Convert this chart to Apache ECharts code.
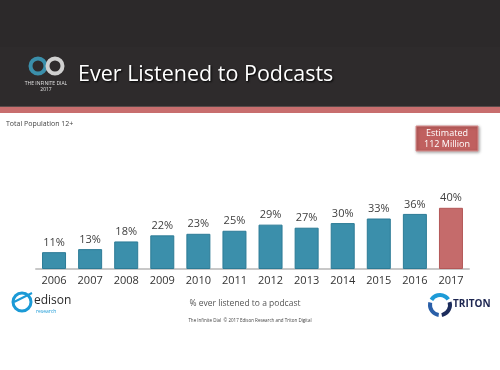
<!DOCTYPE html>
<html>
<head>
<meta charset="utf-8">
<script src="https://cdn.jsdelivr.net/npm/echarts@6/dist/echarts.min.js"></script>
<style>html,body{margin:0;padding:0;background:#fff}#c{width:500px;height:370px}</style>
</head>
<body>
<div id="c"></div>
<script>
var categories = ['2006','2007','2008','2009','2010','2011','2012','2013','2014','2015','2016','2017'];
var values = [11, 13, 18, 22, 23, 25, 29, 27, 30, 33, 36, 40];
var highlightCategory = '2017';
var titleText = 'Ever Listened to Podcasts';
var subtitleText = 'Total Population 12+';
var calloutText = 'Estimated\n112 Million';
var axisNameText = '% ever listened to a podcast';
var footerText = 'The Infinite Dial  \u00A9 2017 Edison Research and Triton Digital';

var FONT = '"Open Sans", "Noto Sans", sans-serif';
var chart = echarts.init(document.getElementById('c'), null, {renderer: 'canvas'});

var barData = values.map(function (v, i) {
  var hi = categories[i] === highlightCategory;
  return {
    value: v,
    itemStyle: hi ? {color: '#c56b6b', borderColor: '#b35757', borderWidth: 1}
                  : {color: '#3b8fab', borderColor: '#2c7b96', borderWidth: 1}
  };
});

chart.setOption({
  backgroundColor: '#ffffff',
  animation: false,
  grid: {left: 36, right: 31, top: 116, bottom: 101},
  xAxis: {
    type: 'category',
    data: categories,
    axisTick: {show: false},
    axisLine: {lineStyle: {color: '#c8c8c8', width: 2}},
    axisLabel: {color: '#333333', fontSize: 11, fontFamily: FONT, margin: 6}
  },
  yAxis: {type: 'value', min: 0, max: 100, show: false, splitLine: {show: false}},
  series: [{
    type: 'bar',
    data: barData,
    barWidth: 24,
    label: {
      show: true, position: 'top', distance: 4,
      formatter: '{c}%', color: '#404040', fontSize: 11, fontFamily: FONT
    }
  }],
  graphic: [
    // header
    {type: 'rect', z: 1, shape: {x: 0, y: 0, width: 500, height: 107}, style: {fill: '#2c292a'}},
    {type: 'rect', z: 1, shape: {x: 0, y: 47, width: 500, height: 59}, style: {fill: '#2e2b2c'}},
    {type: 'rect', z: 1, shape: {x: 0, y: 106, width: 500, height: 1}, style: {fill: '#5a4a4a'}},
    {type: 'rect', z: 1, shape: {x: 0, y: 107, width: 500, height: 6}, style: {fill: '#c86e6e'}},
    // infinity logo
    {type: 'circle', z: 2, shape: {cx: 38, cy: 66, r: 7.5}, style: {fill: 'none', stroke: '#3b8fab', lineWidth: 4}},
    {type: 'circle', z: 2, shape: {cx: 55, cy: 66, r: 7.5}, style: {fill: 'none', stroke: '#d0d0d0', lineWidth: 4}},
    {type: 'text', z: 2, style: {x: 46, y: 84, text: 'THE INFINITE DIAL', fill: '#e0e0e0', fontSize: 5, fontFamily: FONT, align: 'center', verticalAlign: 'middle'}},
    {type: 'text', z: 2, style: {x: 46, y: 90, text: '2017', fill: '#e0e0e0', fontSize: 5, fontFamily: FONT, align: 'center', verticalAlign: 'middle'}},
    // title
    {type: 'text', z: 2, style: {x: 78, y: 75, text: titleText, fill: '#ffffff', fontSize: 21.5, fontFamily: FONT,
      verticalAlign: 'middle', textShadowColor: '#000000', textShadowBlur: 2, textShadowOffsetX: 1, textShadowOffsetY: 1}},
    // subtitle
    {type: 'text', z: 2, style: {x: 6, y: 124, text: subtitleText, fill: '#444444', fontSize: 7, fontFamily: FONT, verticalAlign: 'middle'}},
    // callout
    {type: 'rect', z: 2, shape: {x: 416, y: 126, width: 62, height: 25},
      style: {fill: '#c0605f', stroke: '#d89090', lineWidth: 1, shadowColor: 'rgba(0,0,0,0.35)', shadowBlur: 3, shadowOffsetX: 1, shadowOffsetY: 1}},
    {type: 'text', z: 3, style: {x: 447, y: 138.5, text: calloutText, fill: '#ffffff', fontSize: 9, lineHeight: 11, fontFamily: FONT, align: 'center', verticalAlign: 'middle'}},
    // axis name / footer
    {type: 'text', z: 2, style: {x: 245, y: 304, text: axisNameText, fill: '#555555', fontSize: 8.5, fontFamily: FONT, align: 'center', verticalAlign: 'middle'}},
    {type: 'text', z: 2, style: {x: 250, y: 321, text: footerText, fill: '#444444', fontSize: 4.5, fontFamily: FONT, align: 'center', verticalAlign: 'middle'}},
    // edison logo
    {type: 'circle', z: 2, shape: {cx: 22, cy: 302, r: 9}, style: {fill: 'none', stroke: '#1b9ad6', lineWidth: 3}},
    {type: 'line', z: 2, shape: {x1: 14, y1: 302, x2: 32, y2: 293}, style: {stroke: '#1b9ad6', lineWidth: 2}},
    {type: 'text', z: 2, style: {x: 34, y: 301, text: 'edison', fill: '#2a2a2a', fontSize: 12, fontFamily: FONT, verticalAlign: 'middle'}},
    {type: 'text', z: 2, style: {x: 36, y: 312, text: 'research', fill: '#1b9ad6', fontSize: 5, fontFamily: FONT, verticalAlign: 'middle'}},
    // triton logo
    {type: 'arc', z: 2, shape: {cx: 440, cy: 305, r: 10, startAngle: -2.6, endAngle: -0.6}, style: {fill: 'none', stroke: '#1e9bd7', lineWidth: 4}},
    {type: 'arc', z: 2, shape: {cx: 440, cy: 305, r: 10, startAngle: -0.3, endAngle: 1.4}, style: {fill: 'none', stroke: '#1c2c5c', lineWidth: 4}},
    {type: 'arc', z: 2, shape: {cx: 440, cy: 305, r: 10, startAngle: 1.7, endAngle: 3.4}, style: {fill: 'none', stroke: '#2a5fa8', lineWidth: 4}},
    {type: 'text', z: 2, style: {x: 453, y: 304, text: 'TRITON', fill: '#1c2550', fontSize: 10, fontWeight: 'bold', fontFamily: FONT, verticalAlign: 'middle'}}
  ]
});
</script>
</body>
</html>
